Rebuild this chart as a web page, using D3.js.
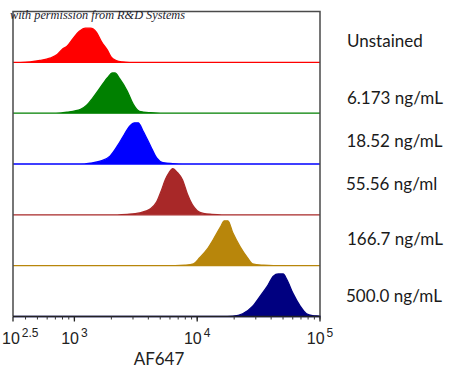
<!DOCTYPE html>
<html><head><meta charset="utf-8">
<script src="https://cdn.jsdelivr.net/npm/d3@7"></script>
<style>body{margin:0;background:#fff}svg{display:block}</style>
</head><body>
<svg id="c" width="450" height="382"></svg>
<script>
// ---- data (log10 of AF647 intensity, relative event counts) ----
const samples = ["Unstained", "6.173 ng/mL", "18.52 ng/mL", "55.56 ng/ml", "166.7 ng/mL", "500.0 ng/mL"];
const colors  = ["#ff0000", "#008000", "#0000ff", "#a82828", "#b8860b", "#000080"];

const unstainedLog   = [2.56,2.64,2.72,2.80,2.86,2.90,2.94,2.99,3.04,3.09,3.13,3.18,3.22,3.27,3.30,3.34,3.39,3.45];
const unstainedCount = [0,1,4,9,17,28,35,52,67,74,74,65,45,26,11,4,1,0];

const c6Log   = [2.85,2.94,3.05,3.10,3.15,3.21,3.27,3.31,3.33,3.37,3.43,3.48,3.53,3.62,3.70];
const c6Count = [0,2,8,17,33,55,77,87,87,74,48,19,4,1,0];

const c18Log   = [3.05,3.13,3.21,3.29,3.35,3.40,3.45,3.49,3.52,3.56,3.62,3.67,3.72,3.80,3.88];
const c18Count = [0,2,6,17,39,61,82,89,89,71,39,13,3,1,0];

const c55Log   = [3.35,3.43,3.53,3.62,3.67,3.71,3.74,3.77,3.80,3.84,3.88,3.92,3.96,4.00,4.05,4.12,4.20];
const c55Count = [0,1,4,13,28,54,76,91,100,91,76,45,22,9,3,1,0];

const c166Log   = [3.82,3.90,3.97,4.02,4.08,4.13,4.19,4.22,4.25,4.29,4.35,4.41,4.45,4.54,4.62];
const c166Count = [0,1,4,17,35,56,84,97,97,71,41,17,4,1,0];

const c500Log   = [4.20,4.29,4.37,4.45,4.51,4.57,4.62,4.66,4.70,4.73,4.78,4.84,4.89,4.94,5.00];
const c500Count = [0,1,6,22,43,65,87,92,92,80,50,22,6,2,1];

const majorExponents = [2.5, 3, 4, 5];
const axisTitle = "AF647";
const credit = "with permission from R&D Systems";

// ---- layout ----
const svg = d3.select("#c");
const pLeft = 13, pRight = 320, pTop = 11.5, pBottom = 316.5;

const x = d3.scaleLog().domain([Math.pow(10, 2.5), 1e5]).range([pLeft, pRight]);
const lane = d3.scaleBand().domain(samples).range([pTop, pBottom]).padding(0);

const series = [
  [unstainedLog, unstainedCount], [c6Log, c6Count], [c18Log, c18Count],
  [c55Log, c55Count], [c166Log, c166Count], [c500Log, c500Count]
];

series.forEach(([lg, ct], i) => {
  const base = lane(samples[i]) + lane.bandwidth();
  const y = d3.scaleLinear().domain([0, 110]).range([base, base - lane.bandwidth()]);
  const pts = [[2.5, 0]].concat(lg.map((v, j) => [v, ct[j]])).concat([[5, 0]]);
  const area = d3.area()
    .x(d => x(Math.pow(10, d[0])))
    .y0(y(0)).y1(d => y(d[1]))
    .curve(d3.curveMonotoneX);
  svg.append("path").attr("d", area(pts))
    .attr("fill", colors[i]).attr("stroke", colors[i]).attr("stroke-width", 1.3);
});

// frame
svg.append("path")
  .attr("d", `M${pLeft},${pBottom}V${pTop}H${pRight}V${pBottom}`)
  .attr("fill", "none").attr("stroke", "#4a4a4a").attr("stroke-width", 1.5);

// x axis
const gx = svg.append("g").attr("transform", `translate(0,${pBottom})`);
gx.append("line").attr("x1", pLeft).attr("x2", pRight).attr("stroke", "#222").attr("stroke-width", 1.5);
const minor = x.ticks().filter(t => t > x.domain()[0] * 1.01);
gx.selectAll("line.minor").data(minor).join("line").attr("class", "minor")
  .attr("x1", d => x(d)).attr("x2", d => x(d)).attr("y1", 0).attr("y2", 3)
  .attr("stroke", "#333").attr("stroke-width", 1);
gx.selectAll("line.major").data(majorExponents).join("line").attr("class", "major")
  .attr("x1", d => x(Math.pow(10, d))).attr("x2", d => x(Math.pow(10, d)))
  .attr("y1", 0).attr("y2", 5).attr("stroke", "#222").attr("stroke-width", 1.3);

const lbl = gx.selectAll("text.tl").data(majorExponents).join("text").attr("class", "tl")
  .attr("x", d => x(Math.pow(10, d))).attr("y", 27)
  .attr("text-anchor", "middle")
  .attr("font-family", "Liberation Sans, Arial, sans-serif").attr("font-size", 16).attr("fill", "#222");
lbl.append("tspan").text("10");
lbl.append("tspan").attr("dx", 2).attr("dy", -7).attr("font-size", 12).text(d => d);
lbl.each(function () {
  const b = this.getBBox();
  if (b.x < 2) d3.select(this).attr("x", +d3.select(this).attr("x") + (2 - b.x));
});

svg.append("text").attr("x", 159).attr("y", 365).attr("text-anchor", "middle")
  .attr("font-family", "Lato, 'Open Sans', sans-serif").attr("font-size", 17).attr("fill", "#222")
  .text(axisTitle);

// sample labels
const labelBase = [47.3, 104.3, 147, 189.5, 245, 302];
const labelX = [347, 347, 346.5, 346, 347, 346];
svg.selectAll("text.sl").data(samples).join("text").attr("class", "sl")
  .attr("x", (d, i) => labelX[i]).attr("y", (d, i) => labelBase[i])
  .attr("font-family", "Lato, 'Open Sans', sans-serif").attr("font-size", 17).attr("fill", "#1a1a1a")
  .text(d => d);

// credit
svg.append("text").attr("x", 10).attr("y", 19)
  .attr("font-family", "Liberation Serif, serif").attr("font-style", "italic")
  .attr("font-size", 12).attr("fill", "#1c1c2c")
  .attr("textLength", 175).attr("lengthAdjust", "spacingAndGlyphs")
  .text(credit);
</script>
</body></html>
